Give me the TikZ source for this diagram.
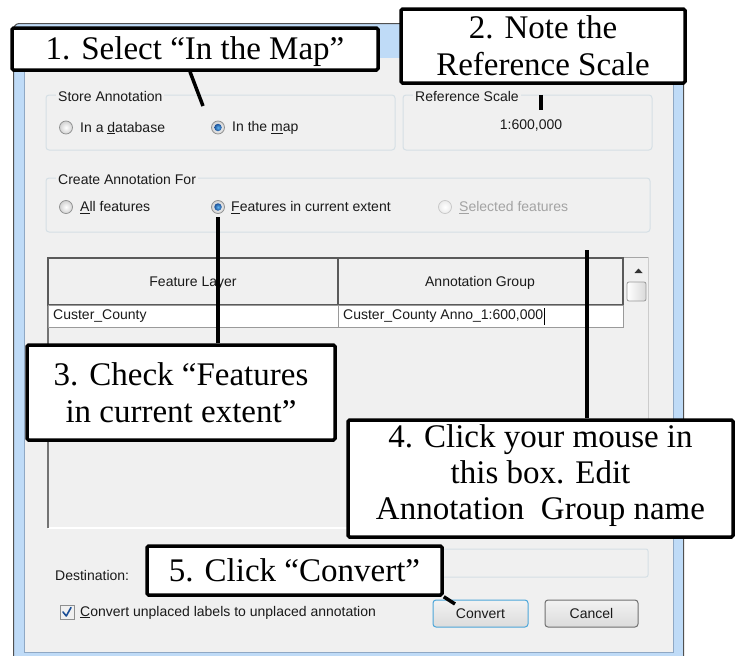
\documentclass[tikz,border=0pt]{standalone}
\usepackage{fontspec}
\setmainfont{Liberation Serif}
\newfontfamily\uifont{Liberation Sans}
\usetikzlibrary{calc}
\definecolor{dlgbg}{HTML}{F0F0F0}
\definecolor{framebl}{HTML}{BFDBF7}
\definecolor{frameln}{HTML}{505050}
\definecolor{innerln}{HTML}{8FA8C4}
\definecolor{grpln}{HTML}{D5DFE5}
\definecolor{uitext}{HTML}{1A1A1A}
\definecolor{distext}{HTML}{A3A3A3}
\definecolor{cellln}{HTML}{5A5A5A}
\definecolor{rowln}{HTML}{9A9A9A}
\definecolor{btnblue}{HTML}{4CA6D9}
\definecolor{btngray}{HTML}{707070}
\definecolor{radioln}{HTML}{8E8F8F}
\definecolor{dotblue}{HTML}{1A4E96}
\definecolor{dotlight}{HTML}{5FB4F0}
\tikzset{
  callout/.style={draw=black, line width=3.5pt, fill=white, inner sep=0pt, align=center,
    font=\fontsize{33}{37}\selectfont, rounded corners=1.5pt},
  callouttext/.style={inner sep=0pt, align=center, font=\fontsize{33}{36}\selectfont},
  conn/.style={line width=3.5pt, black},
  ui/.style={font=\uifont\fontsize{14}{16}\selectfont, text=uitext, inner sep=0pt},
  grp/.style={draw=grpln, line width=1pt, rounded corners=3pt},
  grplabel/.style={ui, fill=dlgbg, inner xsep=2pt, inner ysep=1pt, anchor=west},
  radio/.style={circle, draw=radioln, line width=0.7pt, minimum size=13pt, inner sep=0pt,
    inner color=white, outer color=black!18},
  radiodis/.style={radio, draw=black!22, inner color=white, outer color=black!8},
  radiodot/.style={circle, minimum size=7.5pt, inner sep=0pt, inner color=dotlight, outer color=dotblue},
  btn/.style={ui, rounded corners=3pt, line width=1pt, minimum width=95pt, minimum height=27pt,
    top color=white!95!black, bottom color=black!14},
}
\begin{document}
\begin{tikzpicture}[x=1pt,y=-1pt]
\useasboundingbox (0,0) rectangle (740,656);
% window frame
\draw[frameln, fill=framebl, line width=1pt, rounded corners=6pt] (13.5,23.5) rectangle (683.5,670);
\fill[dlgbg] (24.5,58) rectangle (673,652);
\draw[innerln, line width=0.8pt] (24.5,58) -- (24.5,652) -- (673,652) -- (673,58);

% Store Annotation group
\draw[grp] (46,95) rectangle (395,150);
\node[grplabel] (g1) at (56,96) {Store Annotation};
\node[radio] (r1) at (66,127.5) {};
\node[ui, anchor=west] (l1) at (80,128) {In a \underline{d}atabase};
\node[radio] (r2) at (218,127.5) {};
\node[radiodot] (r2d) at (r2) {};
\node[ui, anchor=west] (l2) at (232,128) {In the \underline{m}ap};

% Reference Scale group
\draw[grp] (403,95) rectangle (652,150);
\node[grplabel] (g2) at (413,96) {Reference Scale};
\node[ui] (scale) at (531,126) {1:600,000};

% Create Annotation For group
\draw[grp] (46,178) rectangle (650,232);
\node[grplabel] (g3) at (56,179) {Create Annotation For};
\node[radio] (r3) at (66,207) {};
\node[ui, anchor=west] (l3) at (80,207.5) {\underline{A}ll features};
\node[radio] (r4) at (218,207) {};
\node[radiodot] (r4d) at (r4) {};
\node[ui, anchor=west] (l4) at (231,207.5) {\underline{F}eatures in current extent};
\node[radiodis] (r5) at (445,207) {};
\node[ui, anchor=west, text=distext] (l5) at (459,207.5) {\underline{S}elected features};

% table
\draw[black!35, line width=1pt] (48,257) -- (648,257);
\draw[white, line width=1.2pt] (48,528) -- (650,528);
\draw[black!55, line width=1.5pt] (48,257) -- (48,528);
\draw[black!20, line width=1pt] (648,257) -- (648,528);
\draw[cellln, line width=2pt, fill=dlgbg] (48,258) rectangle (338,305);
\draw[cellln, line width=2pt, fill=dlgbg] (338,258) rectangle (623,305);
\node[ui] (h1) at (193,283) {Feature Layer};
\node[ui] (h2) at (480,283) {Annotation Group};
\draw[rowln, line width=1pt, fill=white] (48,305) rectangle (338,327);
\draw[rowln, line width=1pt, fill=white] (338,305) rectangle (623,327);
\node[ui, anchor=west] (d1) at (53,316.5) {Custer\_County};
\node[ui, anchor=west] (d2) at (343,316.5) {Custer\_County Anno\_1:600,000};
\draw[black, line width=1pt] ([xshift=1.5pt]d2.east |- 0,308) -- ([xshift=1.5pt]d2.east |- 0,325);
% scrollbar
\fill[black!80] (634.5,273) -- (638.5,268.5) -- (642.5,273) -- cycle;
\draw[black!40, line width=0.8pt, rounded corners=2pt, left color=white, right color=black!15] (627,282) rectangle (646,301);

% destination
\node[ui, anchor=west] (dest) at (55,575) {Destination:};
\draw[grpln, line width=1pt, fill=dlgbg, rounded corners=2pt] (420,549) rectangle (648,577);

% checkbox
\draw[radioln, line width=0.8pt, fill=black!6] (60,605) rectangle (74,619);
\draw[dotblue, line width=1.6pt, line cap=round, line join=round] (63,612) -- (66.3,616) -- (71,607.5);
\node[ui, anchor=west] (cb) at (80,612.5) {\underline{C}onvert unplaced labels to unplaced annotation};

% buttons
\node[btn, draw=btnblue] (bconv) at (480.5,613.5) {Convert};
\node[btn, draw=btngray, minimum width=93pt] (bcanc) at (591.5,613.5) {Cancel};

% connector end points
\coordinate (t1) at (203,106);
\coordinate (t2) at (541,110);
\coordinate (t4) at (587,250);
\coordinate (t5) at (455,604);

% callouts
\node[callout, minimum width=366pt, minimum height=42pt] (c1) at (195,49) {};
\node[callouttext] (c1t) at (195,52) {1. Select “In the Map”};
\node[callout, minimum width=284pt, minimum height=74pt] (c2) at (543,46) {2. Note the\\Reference Scale};
\node[callout, minimum width=308pt, minimum height=95pt] (c3) at (181,392.5) {3. Check “Features\\in current extent”};
\node[callout, minimum width=385pt, minimum height=117pt] (c4) at (540.5,478.5) {};
\node[callouttext] (c4t) at (540.5,475.5) {4. Click your mouse in\\this box. Edit\\Annotation\ \ Group name};
\node[callout, minimum width=295pt, minimum height=49pt] (c5) at (294.5,570.5) {5. Click “Convert”};

\draw[conn] ([xshift=-5pt]c1.south) -- (t1);
\draw[conn] ([xshift=-2pt,yshift=-10pt]c2.south) -- (t2);
\draw[conn] (c3.north -| r4) -- ([yshift=-3pt]r4.south);
\draw[conn] (c4.north -| t4) -- (t4);
\draw[conn] (c5.south east) -- (t5);
\end{tikzpicture}
\end{document}
